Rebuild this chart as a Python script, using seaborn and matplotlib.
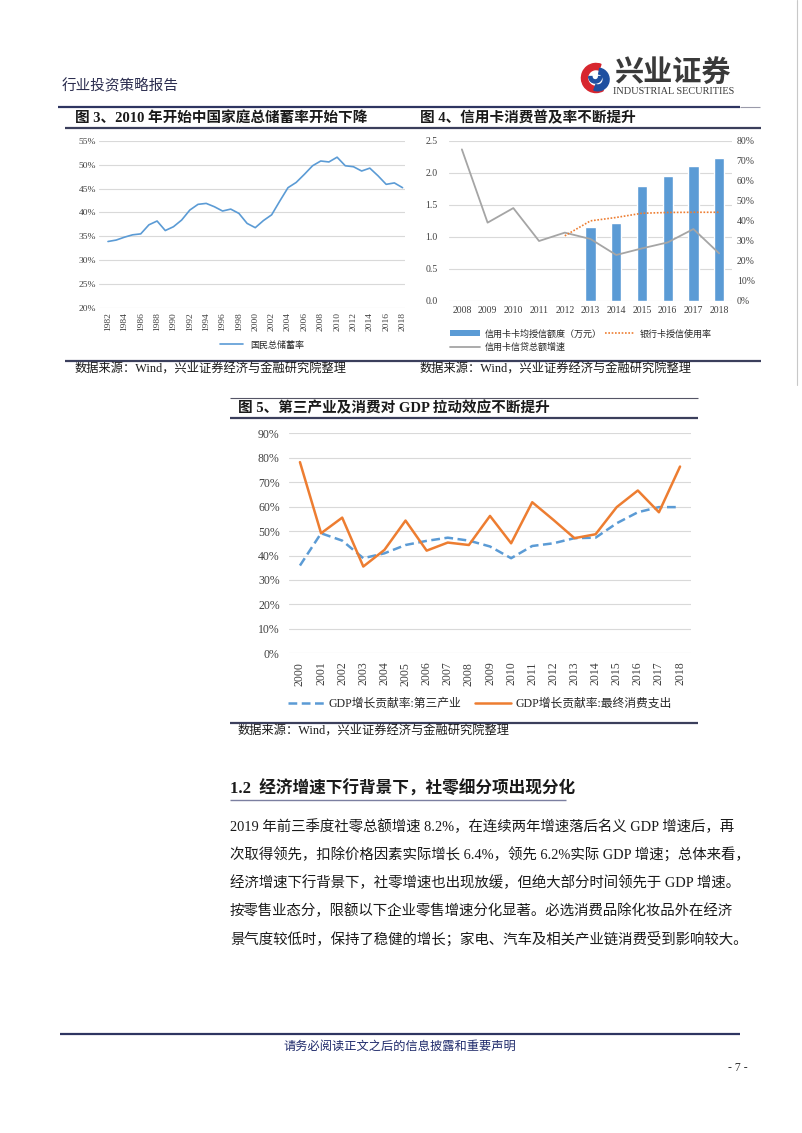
import numpy as np
import pandas as pd
import matplotlib
matplotlib.use("Agg")
import matplotlib.pyplot as plt
import seaborn as sns
from matplotlib.lines import Line2D
from matplotlib.patches import Wedge, Patch
from matplotlib.ticker import PercentFormatter, FormatStrFormatter

# ---------------- data ----------------
# Fig 3: national gross savings rate
years3 = list(range(1982, 2019))
savings = [33.9, 34.2, 34.8, 35.3, 35.5, 37.4, 38.2, 36.2, 37.0, 38.4,
           40.5, 41.7, 41.9, 41.2, 40.3, 40.7, 39.8, 37.7, 36.8, 38.3,
           39.5, 42.4, 45.2, 46.3, 48.0, 49.8, 50.8, 50.6, 51.6, 49.8,
           49.6, 48.7, 49.3, 47.7, 45.9, 46.2, 45.2]
savings_label = "国民总储蓄率"

# Fig 4: credit cards
years4 = list(range(2008, 2019))
bar_years = [2013, 2014, 2015, 2016, 2017, 2018]
avg_credit = [1.16, 1.22, 1.79, 1.95, 2.11, 2.23]
usage_years = [2012, 2013, 2014, 2015, 2016, 2017, 2018]
usage_rate = [32.5, 40.0, 41.7, 43.8, 44.2, 44.3, 44.3]
loan_growth = [75.8, 39.1, 46.4, 29.9, 34.1, 30.9, 22.9, 26.2, 29.2, 35.9, 23.7]
label_bar = "信用卡卡均授信额度（万元）"
label_usage = "银行卡授信使用率"
label_growth = "信用卡信贷总额增速"

# Fig 5: GDP contribution
years5 = list(range(2000, 2019))
tertiary = [35.9, 49.1, 46.1, 38.9, 40.9, 44.3, 46.0, 47.3, 46.1, 43.7,
            38.9, 43.9, 45.0, 47.1, 47.3, 53.2, 57.7, 59.8, 59.8]
consumption = [78.2, 49.1, 55.5, 35.5, 42.3, 54.3, 42.0, 45.3, 44.3, 56.2,
               45.0, 61.8, 54.6, 47.1, 48.7, 59.8, 66.6, 57.7, 76.4]
label_tertiary = "GDP增长贡献率:第三产业"
label_consumption = "GDP增长贡献率:最终消费支出"

title3 = "图 3、2010 年开始中国家庭总储蓄率开始下降"
title4 = "图 4、信用卡消费普及率不断提升"
title5 = "图 5、第三产业及消费对 GDP 拉动效应不断提升"
source = "数据来源：Wind，兴业证券经济与金融研究院整理"
heading = "1.2  经济增速下行背景下，社零细分项出现分化"
paragraph = [
    "2019 年前三季度社零总额增速 8.2%，在连续两年增速落后名义 GDP 增速后，再",
    "次取得领先，扣除价格因素实际增长 6.4%，领先 6.2%实际 GDP 增速；总体来看，",
    "经济增速下行背景下，社零增速也出现放缓，但绝大部分时间领先于 GDP 增速。",
    "按零售业态分，限额以下企业零售增速分化显著。必选消费品除化妆品外在经济",
    "景气度较低时，保持了稳健的增长；家电、汽车及相关产业链消费受到影响较大。",
]
header_left = "行业投资策略报告"
footer = "请务必阅读正文之后的信息披露和重要声明"
page_no = "- 7 -"

# ---------------- style ----------------
sns.set_theme(style="white")
FAM = ["Liberation Serif", "Noto Sans CJK SC", "DejaVu Sans"]
CJK = ["Noto Sans CJK SC", "DejaVu Sans"]
plt.rcParams["font.family"] = FAM
plt.rcParams["axes.unicode_minus"] = False

W, H = 802, 1133
fig = plt.figure(figsize=(W / 100, H / 100), dpi=100)
fig.patch.set_facecolor("white")


def fx(px):
    return px / W


def fy(py):
    return 1 - py / H


def hline(y, x0, x1, color="#3B3F5C", lw=1.5):
    fig.add_artist(Line2D([fx(x0), fx(x1)], [fy(y), fy(y)], transform=fig.transFigure,
                          color=color, lw=lw, solid_capstyle="butt"))


BLUE = "#5B9BD5"
ORANGE = "#ED7D31"
GRAY = "#A5A5A5"
GRID = "#D9D9D9"
TICK = "#404040"


def style_ax(ax, fs, ypad, xpad):
    for s in ax.spines.values():
        s.set_visible(False)
    ax.grid(axis="y", color=GRID, lw=0.8)
    ax.grid(axis="x", visible=False)
    ax.set_axisbelow(True)
    ax.tick_params(axis="both", length=0, labelsize=fs, colors=TICK)
    ax.tick_params(axis="y", pad=ypad)
    ax.tick_params(axis="x", pad=xpad)
    ax.set_xlabel("")
    ax.set_ylabel("")


# ---------------- header ----------------
fig.text(fx(62), fy(86), header_left, family=CJK, fontsize=10.5, color="#2B2D4F", va="center")
hline(107, 58, 740, color="#2E3561", lw=1.6)
hline(107, 740, 760, color="#9A9AAA", lw=0.8)
fig.add_artist(Line2D([fx(797), fx(797)], [fy(0), fy(385)], transform=fig.transFigure,
                      color="#C8C8C8", lw=0.8))

# logo
axl = fig.add_axes([fx(580), fy(94), fx(32), 32 / H])
axl.set_xlim(-1.1, 1.1)
axl.set_ylim(-1.1, 1.1)
axl.set_aspect("equal")
axl.axis("off")
axl.add_patch(Wedge((0, 0), 1.0, 70, 300, width=0.42, color="#D7262E"))
axl.add_patch(Wedge((0.12, -0.1), 0.78, 250, 80, width=0.4, color="#1E4FA0"))
axl.add_patch(Wedge((-0.05, 0.1), 0.45, 180, 360, width=0.22, color="#1E4FA0"))
fig.text(fx(614), fy(73), "兴业证券", family=CJK, fontsize=21, fontweight="bold",
         color="#3A3A3A", va="center")
fig.text(fx(613), fy(92), "INDUSTRIAL SECURITIES", family=["Liberation Serif"],
         fontsize=7.4, color="#3A3A3A", va="center")

# ---------------- fig 3 / fig 4 titles ----------------
fig.text(fx(75), fy(118), title3, family=FAM, fontsize=10.5, fontweight="bold",
         color="#1A1A1A", va="center")
fig.text(fx(420), fy(118), title4, family=FAM, fontsize=10.5, fontweight="bold",
         color="#1A1A1A", va="center")
hline(128, 65, 761, color="#3B3F5C", lw=1.6)
hline(361, 65, 761, color="#3B3F5C", lw=1.6)
fig.text(fx(75), fy(370), source, family=FAM, fontsize=8.8, color="#1A1A1A", va="center")
fig.text(fx(420), fy(370), source, family=FAM, fontsize=8.8, color="#1A1A1A", va="center")

# ---------------- fig 3 ----------------
ax3 = fig.add_axes([fx(99), fy(307.7), (405 - 99) / W, (307.7 - 141) / H])
df3 = pd.DataFrame({"year": years3, "rate": np.array(savings) / 100})
sns.lineplot(data=df3, x="year", y="rate", ax=ax3, color=BLUE, lw=1.2, label=savings_label)
ax3.set_xlim(1980.9, 2018.3)
ax3.set_ylim(0.2, 0.55)
ax3.set_yticks(np.arange(0.20, 0.551, 0.05))
ax3.yaxis.set_major_formatter(PercentFormatter(1.0, decimals=0))
ax3.set_xticks(years3[::2])
ax3.set_xticklabels([str(y) for y in years3[::2]], rotation=90)
style_ax(ax3, 6.8, 2, 3)
ax3.legend(loc="center", bbox_to_anchor=(fx(262), fy(345)), bbox_transform=fig.transFigure,
           frameon=False, handlelength=2.6, prop={"family": CJK, "size": 6.5})

# ---------------- fig 4 ----------------
ax4 = fig.add_axes([fx(449), fy(300.7), (732 - 449) / W, (300.7 - 141) / H])
df4b = pd.DataFrame({"year": [str(y) for y in bar_years], "v": avg_credit})
sns.barplot(data=df4b, x="year", y="v", order=[str(y) for y in years4], color=BLUE,
            saturation=1, width=0.4, ax=ax4)
ax4.set_xlim(-0.5, 10.5)
ax4.set_ylim(0, 2.5)
ax4.set_yticks(np.arange(0, 2.51, 0.5))
ax4.yaxis.set_major_formatter(FormatStrFormatter("%.1f"))
style_ax(ax4, 7, 8, 3.5)
ax4r = ax4.twinx()
df4g = pd.DataFrame({"pos": np.array(years4) - years4[0], "v": np.array(loan_growth) / 100})
df4u = pd.DataFrame({"pos": np.array(usage_years) - years4[0], "v": np.array(usage_rate) / 100})
sns.lineplot(data=df4g, x="pos", y="v", ax=ax4r, color=GRAY, lw=1.3)
sns.lineplot(data=df4u, x="pos", y="v", ax=ax4r, color=ORANGE, lw=1.2, linestyle=(0, (1, 1)))
ax4r.set_xlim(-0.5, 10.5)
ax4r.set_ylim(0, 0.8)
ax4r.set_yticks(np.arange(0, 0.81, 0.1))
ax4r.yaxis.set_major_formatter(PercentFormatter(1.0, decimals=0))
for s in ax4r.spines.values():
    s.set_visible(False)
ax4r.grid(False)
ax4r.tick_params(axis="y", length=0, labelsize=7, colors=TICK, pad=3.5)
ax4r.set_ylabel("")
ax4r.set_xlabel("")
h4 = [Patch(facecolor=BLUE, edgecolor="none", label=label_bar),
      Line2D([], [], color=GRAY, lw=1.3, label=label_growth),
      Line2D([], [], color=ORANGE, lw=1.2, linestyle=(0, (1, 1)), label=label_usage)]
fig.legend(handles=h4, loc="upper left", bbox_to_anchor=(fx(442), fy(321)), ncol=2,
           frameon=False, prop={"family": CJK, "size": 6.5}, handlelength=3.3,
           handleheight=0.6, columnspacing=0.4, labelspacing=0.5, handletextpad=0.5)

# ---------------- fig 5 ----------------
hline(398, 230, 698, color="#555566", lw=0.8)
fig.text(fx(238), fy(408), title5, family=FAM, fontsize=10.5, fontweight="bold",
         color="#1A1A1A", va="center")
hline(418, 230, 698, color="#3B3F5C", lw=1.6)
hline(723, 230, 698, color="#3B3F5C", lw=1.6)
fig.text(fx(238), fy(732), source, family=FAM, fontsize=8.8, color="#1A1A1A", va="center")

ax5 = fig.add_axes([fx(289.4), fy(653.3), (690.6 - 289.4) / W, (653.3 - 433.3) / H])
df5 = pd.DataFrame({"year": years5, "t": np.array(tertiary) / 100,
                    "c": np.array(consumption) / 100})
sns.lineplot(data=df5, x="year", y="t", ax=ax5, color=BLUE, lw=1.8,
             linestyle=(0, (3.5, 1.8)), label=label_tertiary)
sns.lineplot(data=df5, x="year", y="c", ax=ax5, color=ORANGE, lw=1.8, label=label_consumption)
ax5.set_xlim(1999.5, 2018.5)
ax5.set_ylim(0, 0.9)
ax5.set_yticks(np.arange(0, 0.91, 0.1))
ax5.yaxis.set_major_formatter(PercentFormatter(1.0, decimals=0))
ax5.set_xticks(years5)
ax5.set_xticklabels([str(y) for y in years5], rotation=90)
style_ax(ax5, 8.5, 7, 6)
ax5.legend(loc="center", bbox_to_anchor=(fx(480), fy(704)), bbox_transform=fig.transFigure,
           ncol=2, frameon=False, prop={"family": FAM, "size": 8.5}, handlelength=3.0,
           columnspacing=1.2, handletextpad=0.4)

# ---------------- text section ----------------
fig.text(fx(230), fy(789), heading, family=FAM, fontsize=12, fontweight="bold",
         color="#1A1A1A", va="center")
hline(800, 230, 566, color="#7B7FA0", lw=1.0)
for i, line in enumerate(paragraph):
    fig.text(fx(230), fy(827 + 28 * i), line, family=FAM, fontsize=10.4, color="#1A1A1A",
             va="center")

# ---------------- footer ----------------
hline(1034, 60, 740, color="#2E3561", lw=1.6)
fig.text(fx(400), fy(1046), footer, family=CJK, fontsize=8.8, color="#1F2A6B",
         ha="center", va="center")
fig.text(fx(748), fy(1068), page_no, family=["Liberation Serif"], fontsize=8.5,
         color="#333333", ha="right", va="center")

fig.savefig("out.png", dpi=100, facecolor="white")
